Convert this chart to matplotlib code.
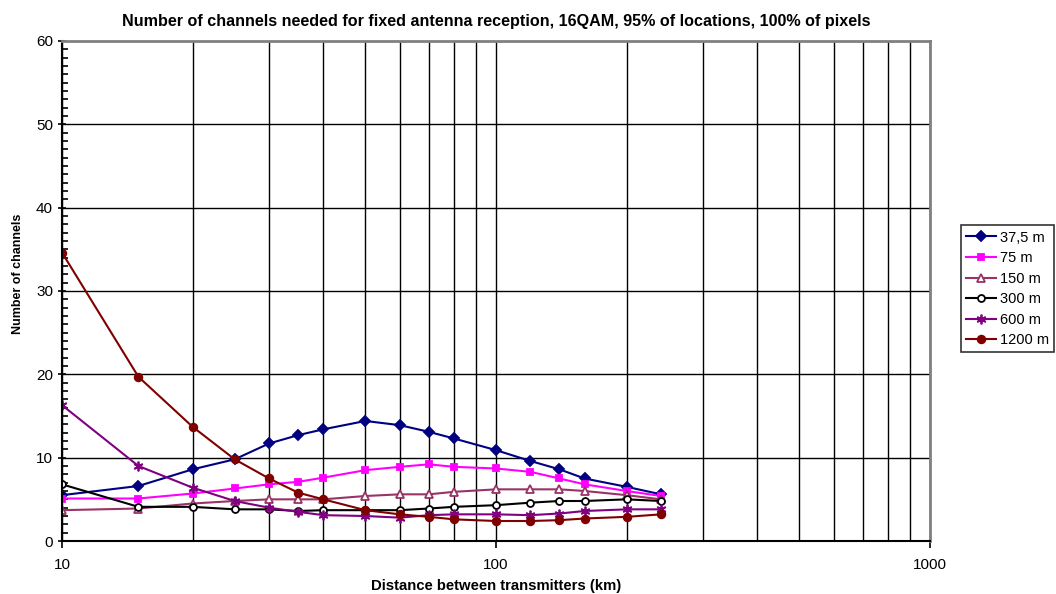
import matplotlib
matplotlib.use("Agg")
import matplotlib.pyplot as plt
from matplotlib.ticker import FixedLocator, NullFormatter, MultipleLocator

plt.rcParams["font.family"] = ["Liberation Sans", "DejaVu Sans"]

distance = [10, 15, 20, 25, 30, 35, 40, 50, 60, 70, 80, 100, 120, 140, 160, 200, 240]

ch_37_5 = [5.5, 6.6, 8.6, 9.8, 11.7, 12.7, 13.4, 14.4, 13.9, 13.1, 12.3, 10.9, 9.6, 8.6, 7.5, 6.5, 5.6]
ch_75 = [5.1, 5.1, 5.7, 6.3, 6.8, 7.1, 7.6, 8.5, 8.9, 9.2, 8.9, 8.7, 8.3, 7.5, 6.8, 6.0, 5.4]
ch_150 = [3.7, 3.9, 4.5, 4.8, 5.0, 5.0, 5.0, 5.4, 5.6, 5.6, 5.9, 6.2, 6.2, 6.2, 6.0, 5.5, 5.0]
ch_300 = [6.8, 4.1, 4.1, 3.8, 3.8, 3.6, 3.7, 3.7, 3.7, 3.9, 4.1, 4.3, 4.6, 4.8, 4.8, 5.0, 4.8]
ch_600 = [16.3, 9.0, 6.4, 4.8, 4.0, 3.5, 3.1, 3.0, 2.8, 3.1, 3.2, 3.2, 3.1, 3.3, 3.6, 3.8, 3.8]
ch_1200 = [34.6, 19.7, 13.7, 9.8, 7.5, 5.8, 5.0, 3.7, 3.2, 2.9, 2.6, 2.4, 2.4, 2.5, 2.7, 2.9, 3.2]

# label, values, colour, marker, face, size
series = [
    ("37,5 m", ch_37_5, "#000080", "D", "#000080", 5.5),
    ("75 m", ch_75, "#FF00FF", "s", "#FF00FF", 4.5),
    ("150 m", ch_150, "#993366", "^", "white", 6),
    ("300 m", ch_300, "#000000", "o", "white", 5),
    ("600 m", ch_600, "#800080", (6, 2, 0), "#800080", 7),
    ("1200 m", ch_1200, "#800000", "o", "#800000", 5.5),
]

fig = plt.figure(figsize=(10.56, 5.94), dpi=100)
ax = fig.add_axes([0.0587, 0.0892, 0.822, 0.842])

for label, vals, color, marker, face, size in series:
    ax.plot(distance, vals, marker=marker, color=color, markersize=size,
            markeredgecolor=color, markerfacecolor=face, markeredgewidth=1.3,
            linewidth=1.5, label=label)

ax.set_xscale("log")
ax.set_xlim(10, 1000)
ax.set_ylim(0, 60)

grid_x = [v * d for d in (10, 100) for v in range(1, 10)] + [1000]
ax.xaxis.set_major_locator(FixedLocator([10, 100, 1000]))
ax.xaxis.set_minor_locator(FixedLocator(grid_x))
ax.xaxis.set_minor_formatter(NullFormatter())
ax.set_xticklabels(["10", "100", "1000"])
for x in grid_x:
    ax.axvline(x, color="black", linewidth=1.0, zorder=0)

ax.yaxis.set_major_locator(MultipleLocator(10))
ax.yaxis.set_minor_locator(MultipleLocator(1))
for y in range(10, 60, 10):
    ax.axhline(y, color="black", linewidth=1.0, zorder=0)

ax.tick_params(axis="y", which="major", direction="inout", length=6, width=1.2, labelsize=11)
ax.tick_params(axis="y", which="minor", direction="in", length=4, width=1.2)
ax.tick_params(axis="x", which="major", direction="out", length=5, width=1.2, labelsize=11, pad=7)
ax.tick_params(axis="x", which="minor", direction="in", length=0)

ax.spines["left"].set_linewidth(1.5)
ax.spines["bottom"].set_linewidth(1.5)
ax.spines["top"].set_color("#808080")
ax.spines["right"].set_color("#808080")
ax.spines["top"].set_linewidth(2)
ax.spines["right"].set_linewidth(2)

ax.set_title("Number of channels needed for fixed antenna reception, 16QAM, 95% of locations, 100% of pixels",
             fontsize=11.6, fontweight="bold", pad=11)
ax.set_xlabel("Distance between transmitters (km)", fontsize=10.7, fontweight="bold", labelpad=5)
ax.set_ylabel("Number of channels", fontsize=9, fontweight="bold")
ax.yaxis.set_label_coords(-0.044, 0.534)

leg = ax.legend(loc="center left", bbox_to_anchor=(1.036, 0.504), frameon=True, fancybox=False,
                edgecolor="black", fontsize=10.5, handlelength=2.0, borderpad=0.35, labelspacing=0.45,
                handletextpad=0.3, borderaxespad=0)
leg.get_frame().set_linewidth(1.2)

fig.savefig("out.png", dpi=100)
